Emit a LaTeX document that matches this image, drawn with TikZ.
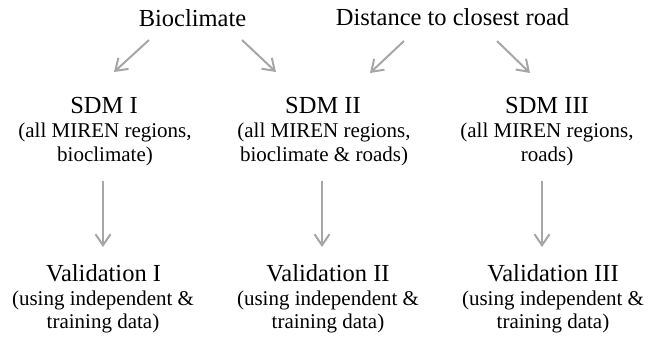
\documentclass[tikz,border=0pt]{standalone}
\usepackage{fontspec}
\setmainfont{Liberation Serif}
\usetikzlibrary{arrows.meta}
\definecolor{arrgray}{HTML}{A6A6A6}
\tikzset{
  x=1pt, y=-1pt,
  ttl/.style={anchor=base, inner sep=0pt, font=\fontsize{24.5}{28}\selectfont},
  sub/.style={anchor=base, inner sep=0pt, font=\fontsize{21}{24}\selectfont},
  arr/.style={draw=arrgray, line width=2pt, -{Straight Barb[length=11pt,width=15pt]}}
}
\begin{document}
\begin{tikzpicture}
\useasboundingbox (0,0) rectangle (653,338);
% top inputs
\node[ttl] (bio)  at (192.5,26) {Bioclimate};
\node[ttl] (dist) at (452.5,25) {Distance to closest road};
% SDM row
\node[ttl] (sdm1) at (104,113) {SDM I};
\node[sub] (sdm1a) at (105,137) {(all MIREN regions,};
\node[sub] (sdm1b) at (105,161) {bioclimate)};
\node[ttl] (sdm2) at (323,113) {SDM II};
\node[sub] (sdm2a) at (324,137) {(all MIREN regions,};
\node[sub] (sdm2b) at (324,161) {bioclimate \& roads)};
\node[ttl] (sdm3) at (547,113) {SDM III};
\node[sub] (sdm3a) at (547,137) {(all MIREN regions,};
\node[sub] (sdm3b) at (547,161) {roads)};
% Validation row
\node[ttl] (val1) at (103.5,281) {Validation I};
\node[sub] (val1a) at (103,305) {(using independent \&};
\node[sub] (val1b) at (103,328) {training data)};
\node[ttl] (val2) at (328,281) {Validation II};
\node[sub] (val2a) at (328,305) {(using independent \&};
\node[sub] (val2b) at (328,328) {training data)};
\node[ttl] (val3) at (553,281) {Validation III};
\node[sub] (val3a) at (553,305) {(using independent \&};
\node[sub] (val3b) at (553,328) {training data)};
% arrows
\draw[arr] ([shift={(-43.5,14)}]bio.base) -- ([shift={(10,-41)}]sdm1.base);
\draw[arr] ([shift={(49.5,14)}]bio.base) -- ([shift={(-47,-41)}]sdm2.base);
\draw[arr] ([shift={(-48.5,16)}]dist.base) -- ([shift={(47,-40)}]sdm2.base);
\draw[arr] ([shift={(44.5,16)}]dist.base) -- ([shift={(-17,-40)}]sdm3.base);
\draw[arr] ([shift={(-2,20)}]sdm1b.base) -- ([shift={(-0.5,-34)}]val1.base);
\draw[arr] ([shift={(-2,20)}]sdm2b.base) -- ([shift={(-6,-34)}]val2.base);
\draw[arr] ([shift={(-5,20)}]sdm3b.base) -- ([shift={(-11,-34)}]val3.base);
\end{tikzpicture}
\end{document}
